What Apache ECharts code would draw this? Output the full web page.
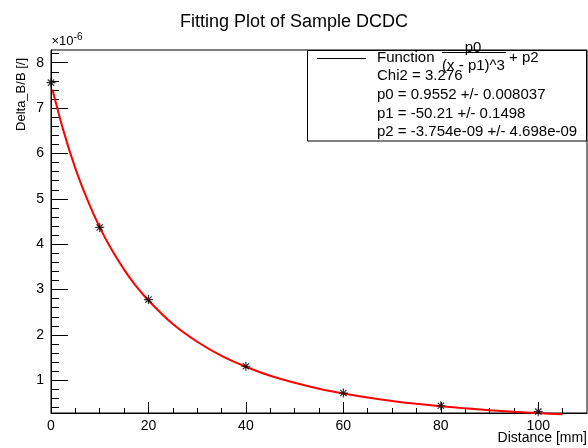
<!DOCTYPE html>
<html>
<head>
<meta charset="utf-8">
<script src="https://cdn.jsdelivr.net/npm/echarts@6/dist/echarts.min.js"></script>
<style>html,body{margin:0;padding:0;background:#fff}#c{width:588px;height:448px}</style>
</head>
<body>
<div id="c"></div>
<script>
// Measured points (Distance [mm], Delta_B/B in units of 1e-6)
var pointX = [0, 10, 20, 40, 60, 80, 100];
var pointY = [7.56, 4.37, 2.78, 1.31, 0.72, 0.44, 0.31];
// Fitted curve
var curveX = [0.3, 2.5, 5, 7.5, 10, 12.5, 15, 17.5, 20, 25, 30, 35, 40, 45, 50, 55, 60, 65, 70, 75, 80, 85, 90, 95, 100, 105];
var curveY = [7.41, 6.52, 5.67, 4.97, 4.37, 3.87, 3.44, 3.07, 2.76, 2.24, 1.85, 1.54, 1.30, 1.10, 0.945, 0.816, 0.71, 0.621, 0.546, 0.483, 0.429, 0.382, 0.343, 0.308, 0.278, 0.251];
var xTicks = [0, 20, 40, 60, 80, 100];
var yTicks = [1, 2, 3, 4, 5, 6, 7, 8];
var legendLines = ["Chi2 = 3.276", "p0 = 0.9552 +/- 0.008037", "p1 = -50.21 +/- 0.1498", "p2 = -3.754e-09 +/- 4.698e-09"];

var FONT = "'Liberation Sans', Arial, Helvetica, sans-serif";
var yMinor = [];
for (var v = 0.4; v < 8.28; v += 0.2) {
  var r = Math.round(v * 10) / 10;
  if (Math.abs(r - Math.round(r)) > 1e-6) yMinor.push(r);
}
var curveData = curveX.map(function (x, i) { return [x, curveY[i]]; });
var pointData = pointX.map(function (x, i) { return [x, pointY[i]]; });

var chart = echarts.init(document.getElementById('c'), null, {renderer: 'canvas'});
var graphics = [
  {type: 'text', x: 294, y: 22.5, style: {text: 'Fitting Plot of Sample DCDC', fill: '#000', fontSize: 18, fontFamily: FONT, align: 'center', verticalAlign: 'middle'}},
  {type: 'text', x: 21, y: 58, rotation: Math.PI / 2, style: {text: 'Delta_B/B [/]', fill: '#000', fontSize: 13, fontFamily: FONT, align: 'right', verticalAlign: 'middle'}},
  {type: 'text', x: 51.5, y: 41, style: {text: '{a|\u00d710}{b|-6}', fill: '#000', fontFamily: FONT, align: 'left', verticalAlign: 'middle',
    rich: {a: {fontSize: 13, fontFamily: FONT, fill: '#000'}, b: {fontSize: 10, fontFamily: FONT, fill: '#000', verticalAlign: 'top', padding: [0, 0, 8, 0]}}}},
  {type: 'text', x: 587, y: 438.5, style: {text: 'Distance [mm]', fill: '#000', fontSize: 14, fontFamily: FONT, align: 'right', verticalAlign: 'middle'}},
  {type: 'rect', z: 10, shape: {x: 307.5, y: 50.5, width: 279, height: 90.5}, style: {fill: '#fff', stroke: '#000', lineWidth: 1}},
  {type: 'line', z: 11, shape: {x1: 317, y1: 58.5, x2: 366, y2: 58.5}, style: {stroke: '#000', lineWidth: 1}},
  {type: 'text', z: 11, x: 377, y: 58, style: {text: 'Function', fill: '#000', fontSize: 15, fontFamily: FONT, align: 'left', verticalAlign: 'middle'}},
  {type: 'text', z: 11, x: 473, y: 47.5, style: {text: 'p0', fill: '#000', fontSize: 15, fontFamily: FONT, align: 'center', verticalAlign: 'middle'}},
  {type: 'line', z: 11, shape: {x1: 442, y1: 52.5, x2: 506, y2: 52.5}, style: {stroke: '#000', lineWidth: 1}},
  {type: 'text', z: 11, x: 473.5, y: 66, style: {text: '(x - p1)^3', fill: '#000', fontSize: 15, fontFamily: FONT, align: 'center', verticalAlign: 'middle'}},
  {type: 'text', z: 11, x: 509, y: 57.5, style: {text: '+ p2', fill: '#000', fontSize: 15, fontFamily: FONT, align: 'left', verticalAlign: 'middle'}}
];
var legendY = [75.5, 95, 114, 132];
legendLines.forEach(function (t, i) {
  graphics.push({type: 'text', z: 11, x: 377, y: legendY[i], style: {text: t, fill: '#000', fontSize: 15, fontFamily: FONT, align: 'left', verticalAlign: 'middle'}});
});

var option = {
  animation: false,
  backgroundColor: '#fff',
  grid: {left: 51, right: 1, top: 50, bottom: 35, show: true, borderColor: '#000', borderWidth: 1, backgroundColor: 'transparent'},
  xAxis: {
    type: 'value', min: 0, max: 110, interval: 20,
    axisLine: {show: true, lineStyle: {color: '#000', width: 1}},
    axisTick: {show: true, inside: true, length: 11, lineStyle: {color: '#000'}, customValues: xTicks},
    minorTick: {show: true, splitNumber: 4, length: 5, lineStyle: {color: '#000'}},
    splitLine: {show: false}, minorSplitLine: {show: false},
    axisLabel: {fontSize: 14, color: '#000', fontFamily: FONT, margin: 6, customValues: xTicks}
  },
  yAxis: [{
    type: 'value', min: 0.28, max: 8.28,
    axisLine: {show: true, onZero: false, lineStyle: {color: '#000', width: 1}},
    axisTick: {show: true, inside: true, length: 17, lineStyle: {color: '#000'}, customValues: yTicks},
    splitLine: {show: false},
    axisLabel: {fontSize: 14, color: '#000', fontFamily: FONT, margin: 7, customValues: yTicks}
  }, {
    type: 'value', min: 0.28, max: 8.28, position: 'left',
    axisLine: {show: false},
    axisTick: {show: true, inside: true, length: 8, lineStyle: {color: '#000'}, customValues: yMinor},
    splitLine: {show: false},
    axisLabel: {show: false}
  }],
  series: [{
    type: 'line', data: curveData, showSymbol: false, smooth: 0.3, clip: false,
    lineStyle: {color: '#ff0000', width: 2}, z: 2
  }, {
    type: 'scatter', data: pointData, clip: false, z: 3,
    symbol: 'path://M0,5L10,5M5,0L5,10M1.5,1.5L8.5,8.5M8.5,1.5L1.5,8.5',
    symbolSize: 9,
    itemStyle: {color: 'rgba(0,0,0,0)', borderColor: '#000', borderWidth: 1.2}
  }],
  graphic: graphics
};
chart.setOption(option);
</script>
</body>
</html>
